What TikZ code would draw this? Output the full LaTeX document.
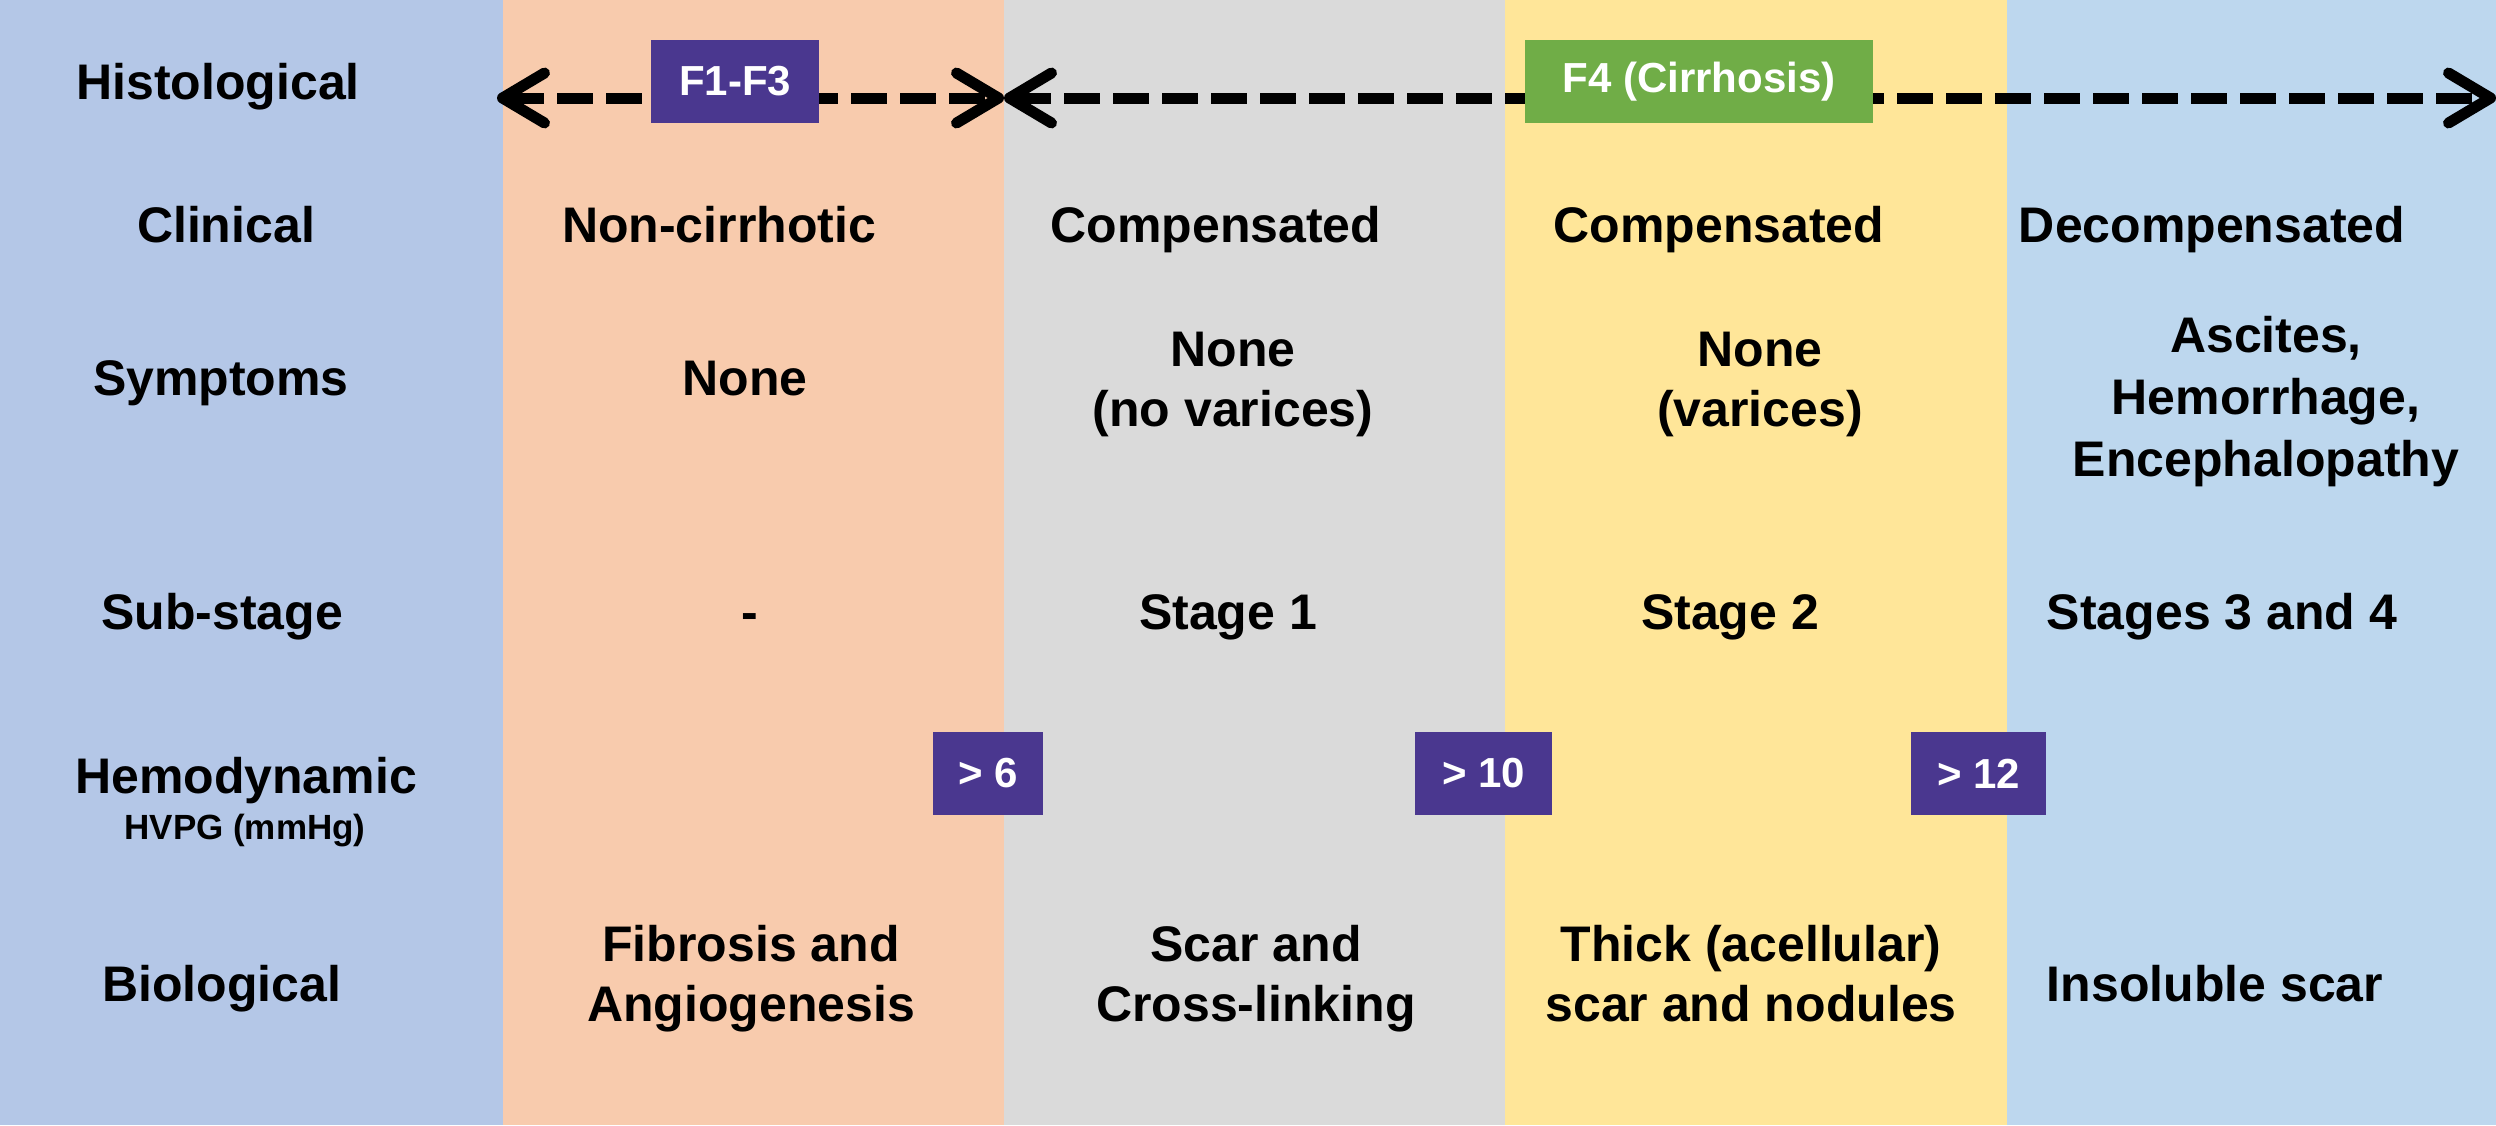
\documentclass[tikz,border=0pt]{standalone}
\usepackage{fontspec}
\setmainfont{Liberation Sans}
\usetikzlibrary{arrows.meta}
\definecolor{cLeft}{HTML}{B4C7E7}
\definecolor{cPeach}{HTML}{F8CBAD}
\definecolor{cGray}{HTML}{DADADA}
\definecolor{cYellow}{HTML}{FFE699}
\definecolor{cBlue}{HTML}{BDD7EE}
\definecolor{cPurple}{HTML}{4A378F}
\definecolor{cGreen}{HTML}{70AD47}
\newcommand\fstrT{\rule{0pt}{18.5pt}}
\newcommand\fstrB{\rule[-5.25pt]{0pt}{5.25pt}}
\begin{document}
\begin{tikzpicture}[x=0.5pt,y=-0.5pt,
 lbl/.style={font=\fontsize{25}{30}\selectfont\bfseries, inner sep=0pt, text height=18.5pt, text depth=5.25pt},
 mlbl/.style={font=\fontsize{25}{30}\selectfont\bfseries, align=center, inner sep=0pt},
 smalllbl/.style={font=\fontsize{17.5}{21}\selectfont\bfseries, inner sep=0pt, text height=12.95pt, text depth=3.7pt},
 tagbox/.style={text=white, font=\fontsize{21}{25}\selectfont\bfseries, inner sep=0pt, minimum height=41.5pt},
 darr/.style={line width=5.5pt, dash pattern=on 18pt off 6.5pt,
   {Straight Barb[length=21pt,width=25pt,round]}-{Straight Barb[length=21pt,width=25pt,round]}}
]
\useasboundingbox (0,0) rectangle (2496,1125);
\fill[cLeft] (0,0) rectangle (503,1125);
\fill[cPeach] (503,0) rectangle (1004,1125);
\fill[cGray] (1004,0) rectangle (1505,1125);
\fill[cYellow] (1505,0) rectangle (2007,1125);
\fill[cBlue] (2007,0) rectangle (2496,1125);

% arrows
\coordinate (a1) at (497,98);
\coordinate (a2) at (1004,98);
\coordinate (a3) at (2496,98);
\draw[darr] (a1) -- (a2);
\draw[darr] (a2) -- (a3);

\node[tagbox, fill=cPurple, minimum width=84pt] (f13) at (735,81.5) {F1-F3\hspace{7.5pt}};
\node[tagbox, fill=cGreen, minimum width=174pt] (f4) at (1699,81.5) {F4 (Cirrhosis)\hspace{15pt}};

% left labels
\node[lbl] (lh) at (218,86.7) {Histological};
\node[lbl] (lc) at (226,229) {Clinical};
\node[lbl] (ls) at (221,382) {Symptoms};
\node[lbl] (lss) at (222,616) {Sub-stage};
\node[lbl] (lhe) at (246,780.5) {Hemodynamic};
\node[smalllbl] (lhv) at (245,830) {HVPG (mmHg)};
\node[lbl] (lb) at (221.5,988.5) {Biological};

% column 1
\node[lbl] (c1c) at (719,229) {Non-cirrhotic};
\node[lbl] (c1s) at (745,382) {None};
\node[lbl] (c1ss) at (750,616) {-};
\node[mlbl] (c1b) at (751,978.6) {\fstrT Fibrosis and\\Angiogenesis\fstrB};

% column 2
\node[lbl] (c2c) at (1216,229) {Compensated};
\node[mlbl] (c2s) at (1233,383) {\fstrT None\\(no varices)\fstrB};
\node[lbl] (c2ss) at (1228,616) {Stage 1};
\node[mlbl] (c2b) at (1256,978.6) {\fstrT Scar and\\Cross-linking\fstrB};

% column 3
\node[lbl] (c3c) at (1719,229) {Compensated};
\node[mlbl] (c3s) at (1760,383) {\fstrT None\\(varices)\fstrB};
\node[lbl] (c3ss) at (1730,616) {Stage 2};
\node[mlbl] (c3b) at (1751,978.6) {\fstrT Thick (acellular)\\scar and nodules\fstrB};

% column 4
\node[lbl] (c4c) at (2212,229) {Decompensated};
\node[mlbl, font=\fontsize{25}{31}\selectfont\bfseries] (c4s) at (2266,401.6) {\fstrT Ascites,\\Hemorrhage,\\Encephalopathy\fstrB};
\node[lbl] (c4ss) at (2222,616) {Stages 3 and 4};
\node[lbl] (c4b) at (2215,988.5) {Insoluble scar};

% hemodynamic boxes
\node[tagbox, fill=cPurple, minimum width=55pt] (h6) at (988,773.5) {> 6};
\node[tagbox, fill=cPurple, minimum width=68.5pt] (h10) at (1483.5,773.5) {> 10};
\node[tagbox, fill=cPurple, minimum width=67.5pt] (h12) at (1978.5,773.5) {> 12};
\end{tikzpicture}
\end{document}
